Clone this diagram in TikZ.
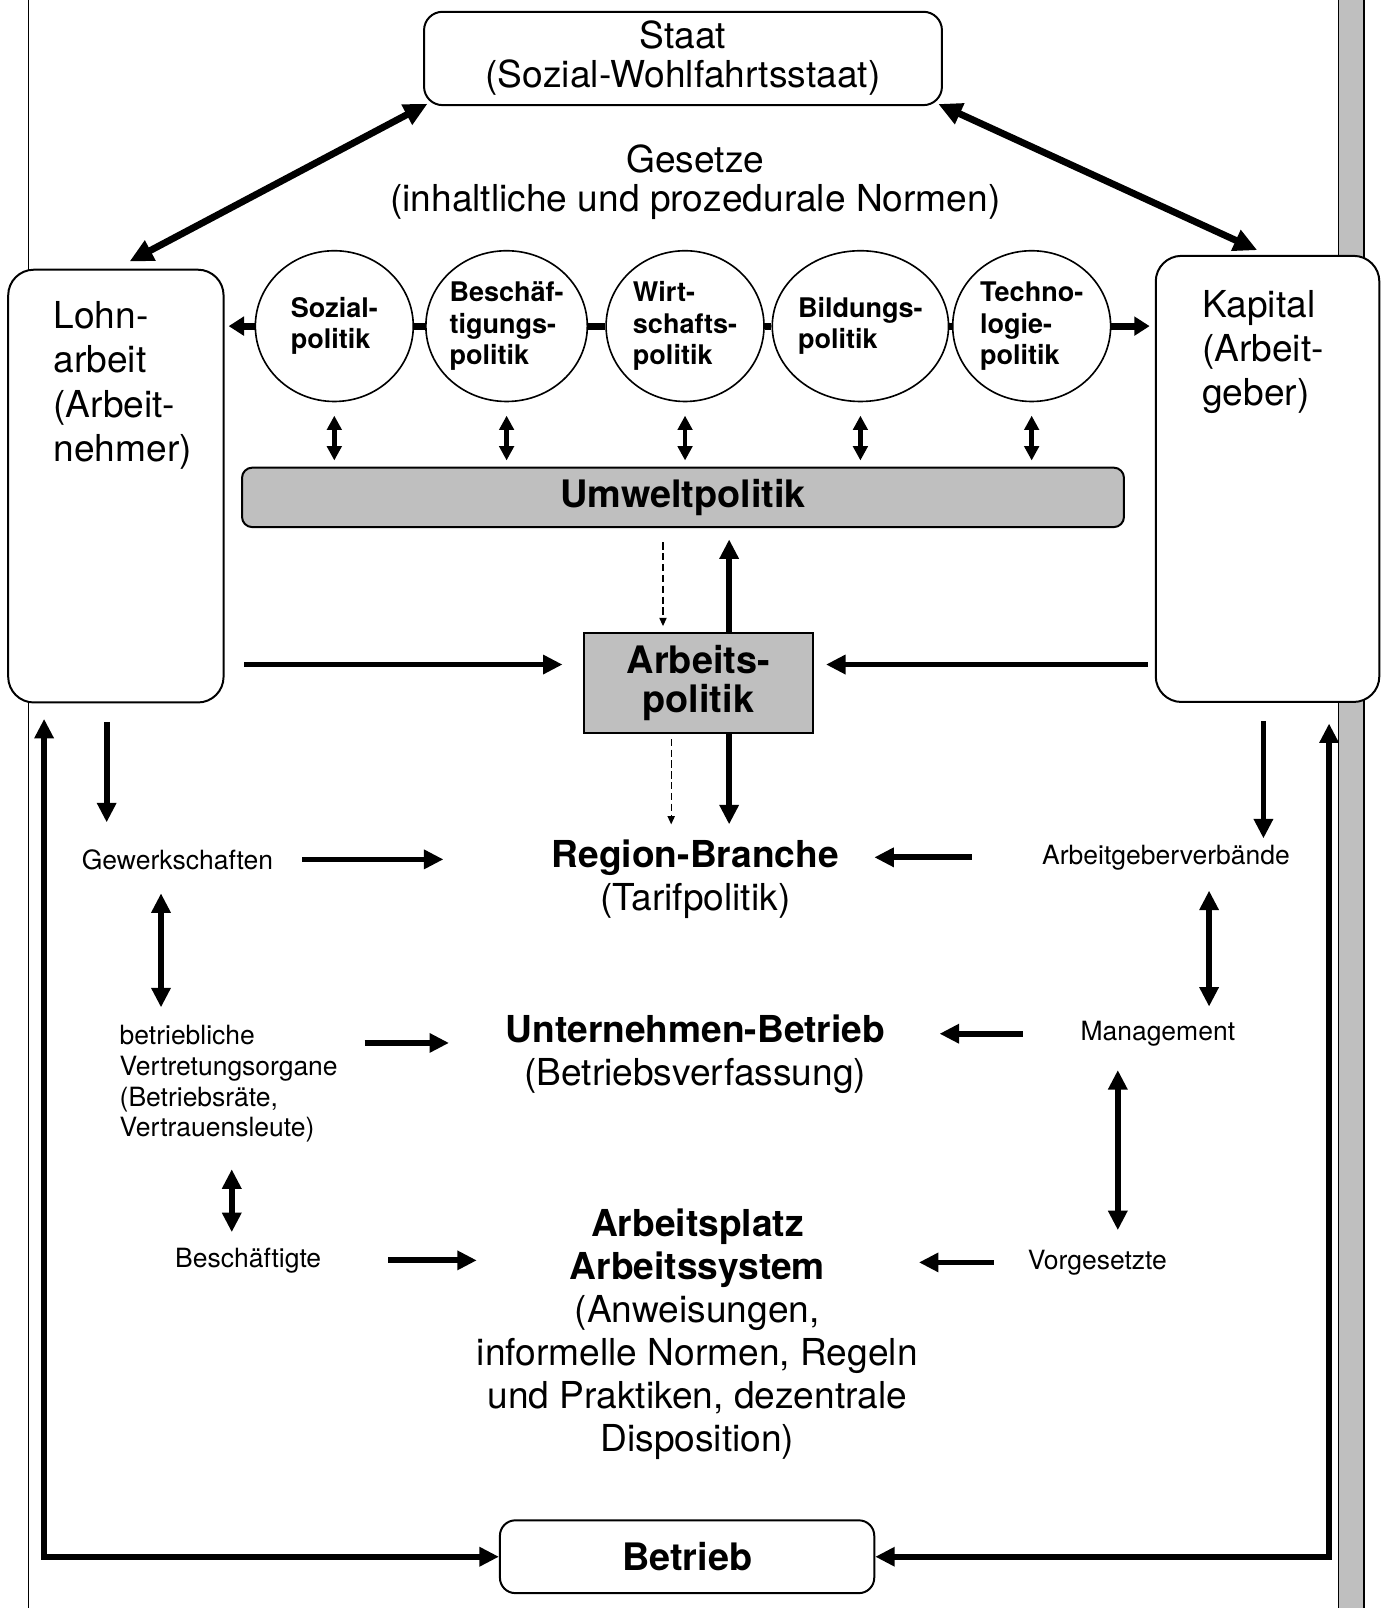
\documentclass[tikz,border=0pt]{standalone}
\usepackage{fontspec}
\setmainfont{TeX Gyre Heros}
\usetikzlibrary{shapes.geometric,arrows.meta,positioning,calc}

\begin{document}
\begin{tikzpicture}[x=0.2mm, y=-0.2mm,
  box/.style={draw, line width=1.1pt, fill=white, rounded corners=3.6mm},
  hatch/.style={draw, line width=1.1pt, fill=black!25},
  pol/.style={draw, ellipse, line width=0.9pt, fill=white, minimum width=30.8mm,
    minimum height=29.4mm, inner sep=0pt, align=left,
    font=\fontsize{15}{17.4}\selectfont\bfseries},
  big/.style={align=center, font=\fontsize{20.6}{21.6}\selectfont},
  side/.style={align=left, font=\fontsize{20.6}{24.5}\selectfont},
  lvl/.style={align=center, font=\fontsize{20.6}{23.9}\selectfont},
  small/.style={align=left, font=\fontsize{14.7}{17}\selectfont},
  arr/.style={line width=3.2pt, -{Triangle[length=3.8mm,width=3.6mm]}},
  darr/.style={line width=3.2pt, {Triangle[length=3.8mm,width=3.6mm]}-{Triangle[length=3.8mm,width=3.6mm]}},
  bigdarr/.style={line width=3.8pt, {Triangle[length=4.6mm,width=4.2mm]}-{Triangle[length=4.6mm,width=4.2mm]}},
  sdarr/.style={line width=2.5pt, {Triangle[length=2.8mm,width=2.8mm]}-{Triangle[length=2.8mm,width=2.8mm]}},
  joint/.style={line width=3.8pt},
  jarr/.style={line width=3.8pt, -{Triangle[length=3mm,width=3.6mm]}},
  dasharr/.style={line width=0.7pt, dash pattern=on 4pt off 2pt, -{Triangle[length=1.6mm,width=1.4mm]}}
]

% Page and margins
\useasboundingbox (0,0) rectangle (1349,1568);
\fill[white] (0,0) rectangle (1349,1568);
\draw[line width=0.6pt] (28,0) -- (28,1568);
\draw[hatch, line width=0.8pt] (1305,-5) rectangle (1330,1573);

% State and laws
\node[box, big, minimum width=101mm, minimum height=18.2mm] (staat) at (666,57) {Staat\\(Sozial-Wohlfahrtsstaat)};
\node[big] (ges) at (678,178) {Gesetze\\(inhaltliche und prozedurale Normen)};

% Labour and capital
\node[box, rounded corners=5mm, minimum width=42mm, minimum height=84.4mm] (lohn) at (113,474) {};
\node[side, anchor=north west] (lohntxt) at (46,288) {Lohn-\\arbeit\\(Arbeit-\\nehmer)};
\node[box, rounded corners=5mm, minimum width=43.6mm, minimum height=87mm] (kap) at (1236,467) {};
\node[side, anchor=north west] (kaptxt) at (1166,277) {Kapital\\(Arbeit-\\geber)};

\draw[bigdarr, shorten <=-1mm, shorten >=3mm] (staat.south west) -- (lohn.north);
\draw[bigdarr, shorten <=-1mm, shorten >=2.2mm] (staat.south east) -- (kap.north);

% Policy fields
\node[pol] (soz) at (326,318) {Sozial-\\politik};
\node[pol] (bes) at (494,318) {Beschäf-\\tigungs-\\politik};
\node[pol] (wir) at (668,318) {Wirt-\\schafts-\\politik};
\node[pol] (bil) at (839,318) {Bildungs-\\politik};
\node[pol] (tec) at (1006,318) {Techno-\\logie-\\politik};

\draw[joint] (soz) -- (bes);
\draw[joint] (bes) -- (wir);
\draw[joint] (wir) -- (bil);
\draw[joint] (bil) -- (tec);
\draw[jarr, shorten >=0.8mm] (soz) -- (soz -| lohn.east);
\draw[jarr, shorten >=1mm] (tec) -- (tec -| kap.west);

% Environmental policy
\node[hatch, rounded corners=2mm, minimum width=172mm, minimum height=11.6mm,
  font=\fontsize{21}{24}\selectfont\bfseries] (umw) at (666,485) {Umweltpolitik};

\foreach \n in {soz,bes,wir,bil,tec}
  \draw[sdarr, shorten <=2.6mm, shorten >=1.2mm] (\n.south) -- (\n.south |- umw.north);

% Labour policy
\node[hatch, minimum width=44.6mm, minimum height=19.4mm, align=center,
  font=\fontsize{21}{21.6}\selectfont\bfseries] (arb) at (681,666) {Arbeits-\\politik};

\coordinate (mid) at (0,648);
\draw[arr, shorten >=2.2mm] ([xshift=6mm]arb.north) -- ([xshift=6mm]arb.north |- umw.south);
\draw[dasharr, shorten <=2.8mm, shorten >=1.2mm] ([xshift=-6.9mm]arb.north |- umw.south) -- ([xshift=-6.9mm]arb.north);
\draw[arr, shorten <=3.8mm, shorten >=4mm] (lohn.east |- mid) -- (arb.west |- mid);
\draw[arr, shorten <=1.4mm, shorten >=2.4mm] (kap.west |- mid) -- (arb.east |- mid);

% Levels
\node[lvl] (reg) at (678,857) {\textbf{Region-Branche}\\(Tarifpolitik)};
\node[lvl] (unt) at (678,1028) {\textbf{Unternehmen-Betrieb}\\(Betriebsverfassung)};
\node[lvl] (ap) at (680,1301) {\textbf{Arbeitsplatz}\\\textbf{Arbeitssystem}\\(Anweisungen,\\informelle Normen, Regeln\\und Praktiken, dezentrale\\Disposition)};

\draw[arr, shorten >=1.7mm] ([xshift=6mm]arb.south) -- ([xshift=6mm]arb.south |- reg.north);
\draw[dasharr, shorten <=1mm, shorten >=1.7mm] ([xshift=-5.3mm]arb.south) -- ([xshift=-5.3mm]arb.south |- reg.north);

% Employee side
\node[small] (gew) at (173,838) {Gewerkschaften};
\node[small] (betr) at (223,1057) {betriebliche\\Vertretungsorgane\\(Betriebsräte,\\Vertrauensleute)};
\node[small] (besch) at (242,1229) {Beschäftigte};

\draw[arr, shorten <=3.6mm, shorten >=4mm] ([xshift=-1.8mm]lohn.south) -- ([xshift=-1.8mm]lohn.south |- gew.north);
\draw[arr, shorten <=4.5mm, shorten >=19.9mm] (gew.east) -- (gew.east -| reg.west);
\draw[darr, shorten <=3.4mm, shorten >=2.3mm] ([xshift=-3.2mm]gew.south) -- ([xshift=-3.2mm]gew.south |- betr.north);
\coordinate (betrarr) at (0,1017);
\draw[arr, shorten <=4mm, shorten >=9.8mm] (betr.east |- betrarr) -- (unt.west |- betrarr);
\draw[darr, shorten <=4mm, shorten >=1.8mm] ([xshift=0.6mm]betr.south) -- ([xshift=0.6mm]betr.south |- besch.north);
\draw[arr, shorten <=11.8mm, shorten >=-1.2mm] (besch.east) -- (besch.east -| ap.west);

% Employer side
\node[small] (agv) at (1137,836) {Arbeitgeberverbände};
\node[small] (mgmt) at (1129,1008) {Management};
\node[small] (vorg) at (1070,1231) {Vorgesetzte};

\draw[arr, shorten <=3.6mm] ([xshift=-0.8mm]kap.south) -- ([xshift=-0.8mm]kap.south |- agv.north);
\draw[arr, shorten <=12.5mm, shorten >=5.7mm] (agv.west) -- (agv.west -| reg.east);
\draw[darr, shorten <=2.8mm, shorten >=1.6mm] ([xshift=8.4mm]agv.south) -- ([xshift=8.4mm]agv.south |- mgmt.north);
\draw[arr, shorten <=10mm, shorten >=9.4mm] (mgmt.west) -- (mgmt.west -| unt.east);
\draw[darr, shorten <=3.4mm, shorten >=2.6mm] ([xshift=-7.8mm]mgmt.south) -- ([xshift=-7.8mm]mgmt.south |- vorg.north);
\draw[arr, shorten <=5.4mm, shorten >=-1mm] (vorg.west) -- (vorg.west -| ap.east);

% Company and feedback loops
\node[box, rounded corners=3mm, minimum width=73mm, minimum height=14.2mm,
  font=\fontsize{21}{24}\selectfont\bfseries] (bet) at (670,1518) {Betrieb};

\coordinate (bl) at (43,1518);
\coordinate (br) at (1296,1518);
\draw[darr, shorten <=3mm] (lohn.south -| bl) -- (bl) -- (bet.west);
\draw[darr, shorten <=4mm] (kap.south -| br) -- (br) -- (bet.east);

\end{tikzpicture}
\end{document}
